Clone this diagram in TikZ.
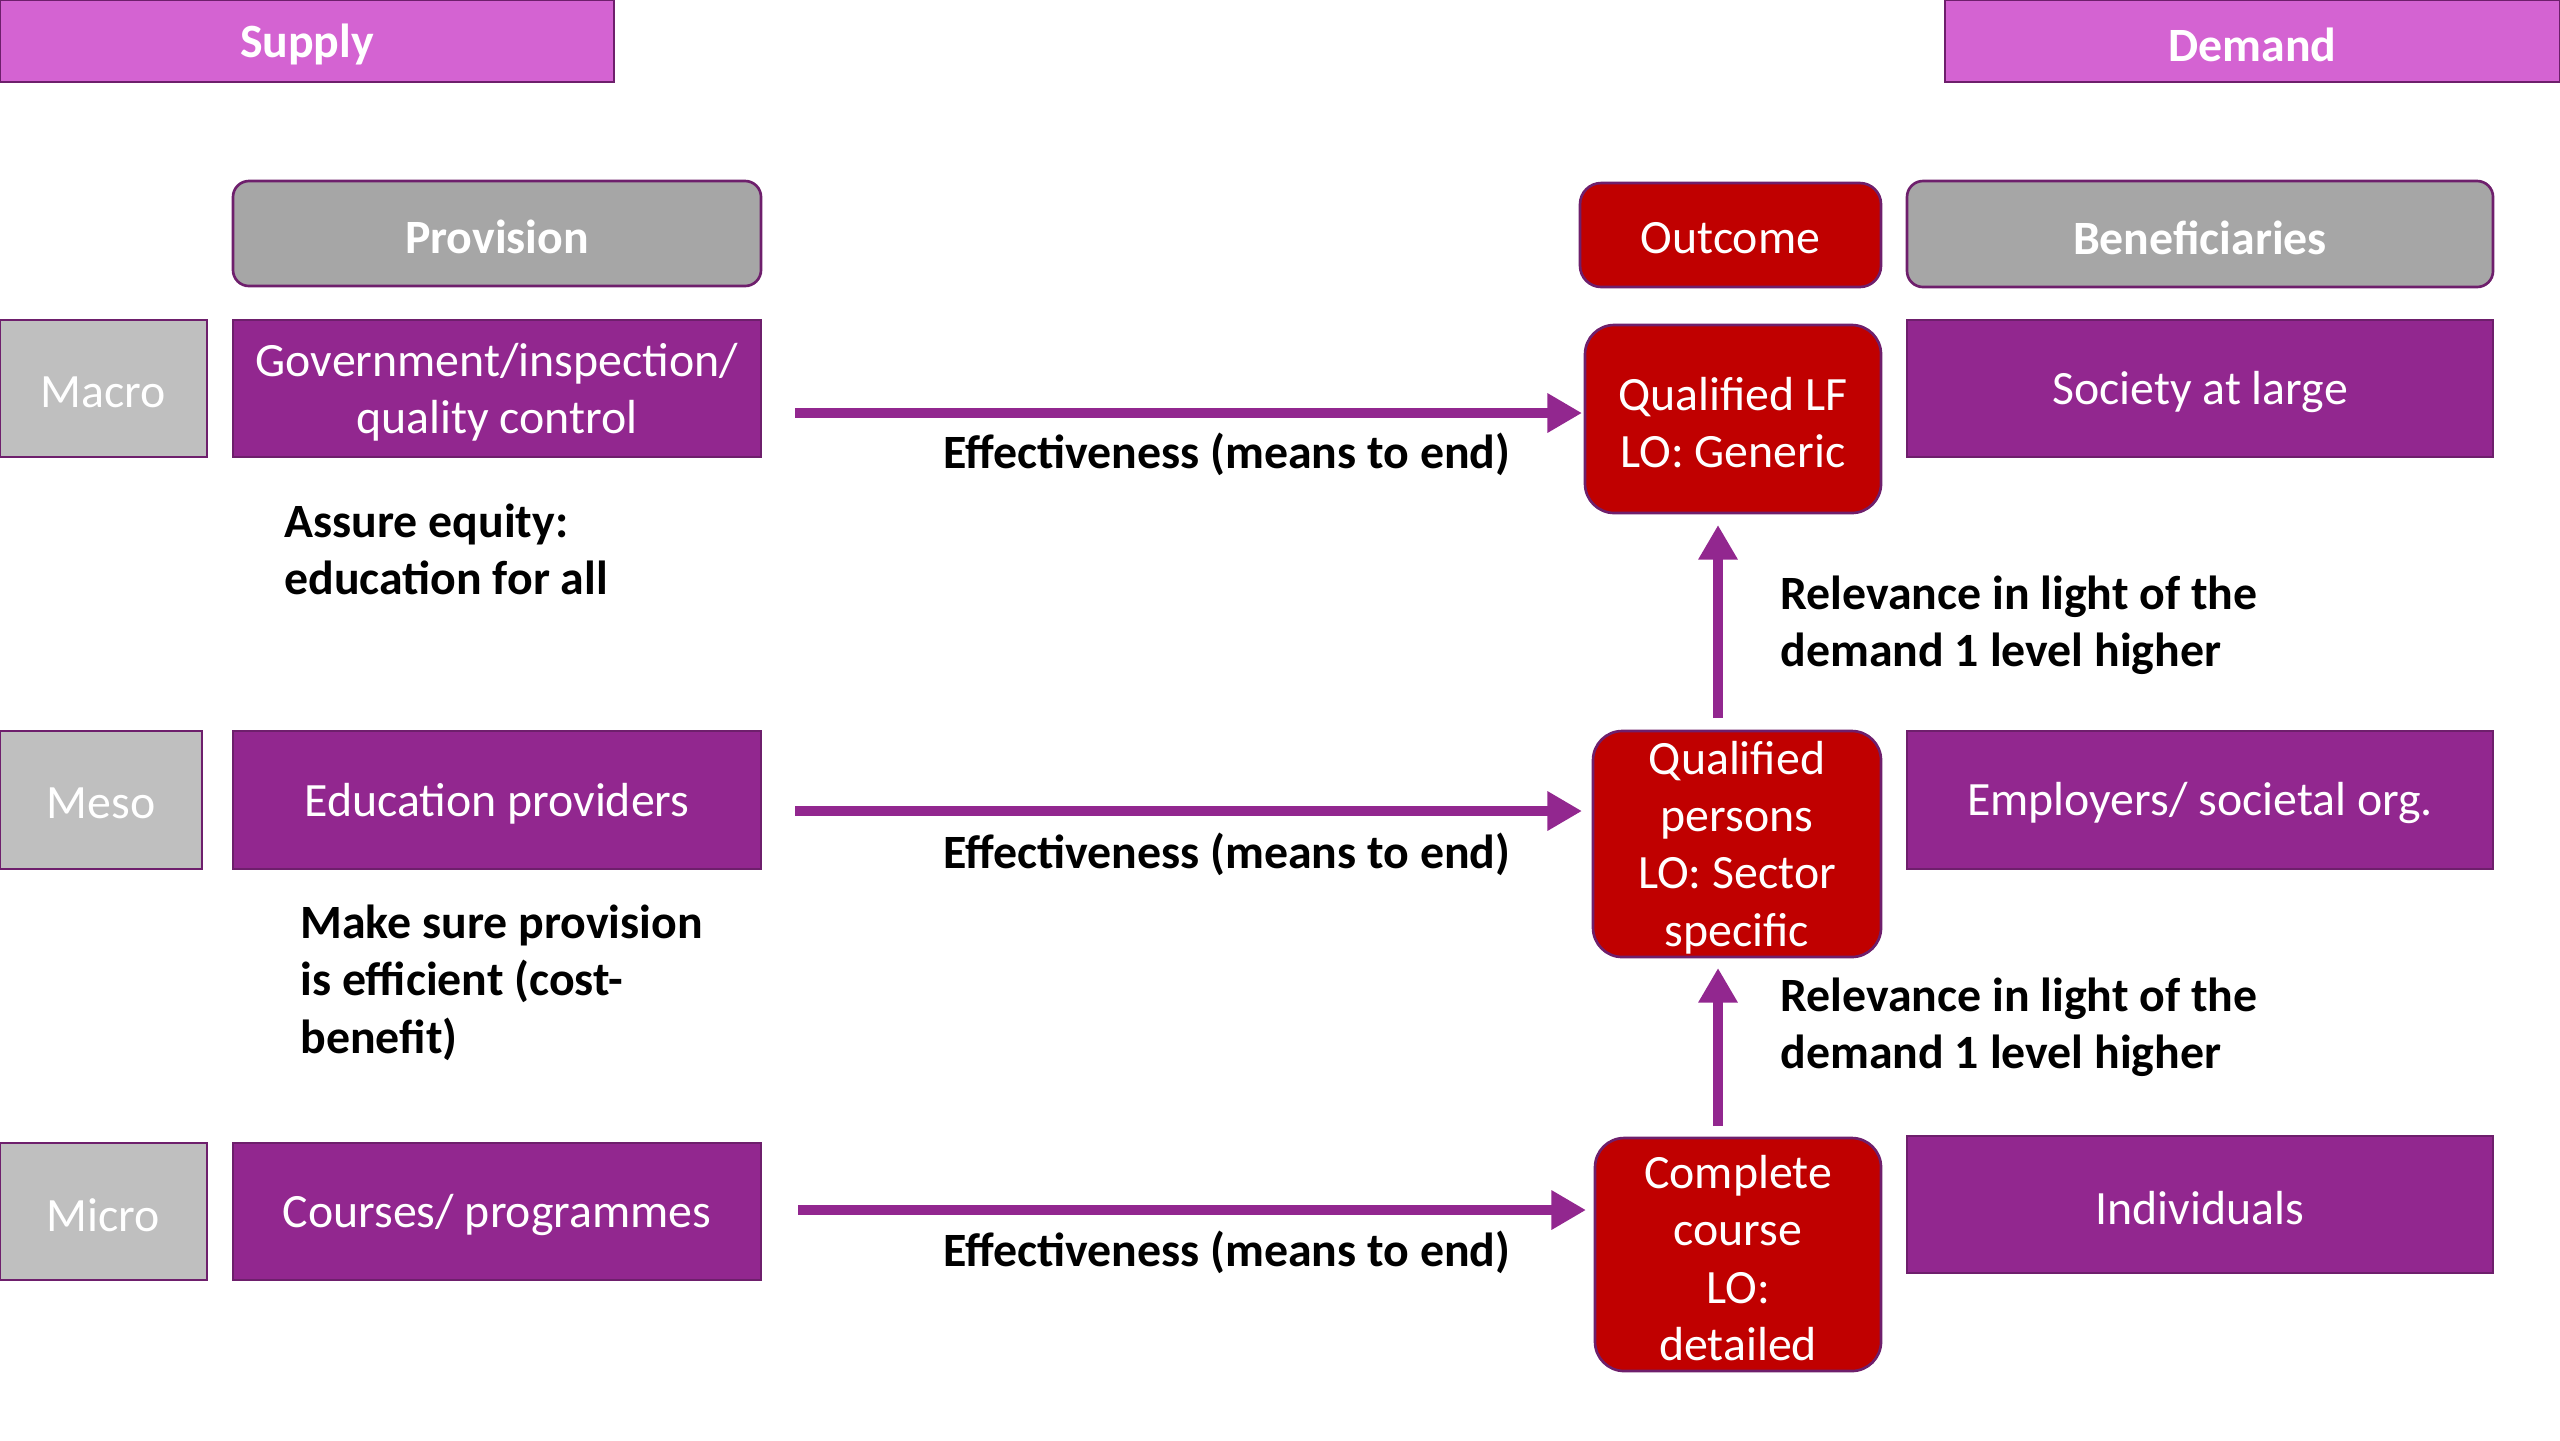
\documentclass[tikz,border=0pt]{standalone}
\usepackage{fontspec}
\setmainfont{Carlito}
\usetikzlibrary{arrows.meta}
\definecolor{purp}{HTML}{92278F}
\definecolor{purpdark}{HTML}{6E1F6C}
\definecolor{orch}{HTML}{D463D2}
\definecolor{grayh}{HTML}{A6A6A6}
\definecolor{grayl}{HTML}{BFBFBF}
\definecolor{redb}{HTML}{C00000}
\def\px{0.013229cm}
\begin{document}
\begin{tikzpicture}[x=\px,y=-\px,
  base/.style={draw=purpdark, line width=1pt, inner sep=0pt},
  btxt/.style={text=white, align=center, inner sep=0pt, yshift=-1.3pt,
    font=\fontsize{18}{21.6}\selectfont},
  btxtb/.style={btxt, font=\fontsize{18}{21.6}\selectfont\bfseries},
  sz/.style 2 args={minimum width=#1*\px, minimum height=#2*\px},
  headtop/.style={base, fill=orch},
  headgray/.style={base, fill=grayh, rounded corners=6pt},
  level/.style={base, fill=grayl},
  pbox/.style={base, fill=purp},
  rbox/.style={base, fill=redb, rounded corners=11pt},
  lbl/.style={font=\fontsize{18}{21.6}\selectfont\bfseries, inner sep=0pt, align=left},
  arr/.style={draw=purp, line width=3.6pt, -{Triangle[length=13pt,width=14pt]}}
]
\useasboundingbox (0,0) rectangle (2560,1440);

% top headers
\node[headtop, sz={614}{82}, label={[btxtb]center:Supply}] (supply) at (307,41) {};
\node[headtop, sz={615}{82}, label={[btxtb]center:Demand}] (demand) at (2252.5,41) {};

% column headers
\node[headgray, sz={528}{105}, label={[btxtb]center:Provision}] (provision) at (497,233.5) {};
\node[base, fill=redb, rounded corners=8pt, sz={301}{104}, label={[btxt]center:Outcome}] (outcome) at (1730.5,235) {};
\node[headgray, sz={586}{106}, label={[btxtb]center:Beneficiaries}] (benef) at (2200,234) {};

% macro row
\node[level, sz={207}{137}, label={[btxt]center:Macro}] (macro) at (103.5,388.5) {};
\node[pbox, sz={528}{137}, label={[btxt]center:Government/inspection/\\quality control}] (gov) at (497,388.5) {};
\node[rbox, sz={296}{188}, label={[btxt]center:Qualified LF\\LO: Generic}] (qlf) at (1733,419) {};
\node[pbox, sz={586}{137}, label={[btxt]center:Society at large}] (society) at (2200,388.5) {};

% meso row
\node[level, sz={202}{138}, label={[btxt]center:Meso}] (meso) at (101,800) {};
\node[pbox, sz={528}{138}, label={[btxt]center:Education providers}] (edu) at (497,800) {};
\node[rbox, sz={288}{226}, label={[btxt]center:Qualified\\persons\\LO: Sector\\specific}] (qp) at (1737,844) {};
\node[pbox, sz={586}{138}, label={[btxt]center:Employers/ societal org.}] (employers) at (2200,800) {};

% micro row
\node[level, sz={207}{137}, label={[btxt]center:Micro}] (micro) at (103.5,1211.5) {};
\node[pbox, sz={528}{137}, label={[btxt]center:Courses/ programmes}] (courses) at (497,1211.5) {};
\node[rbox, sz={286}{233}, label={[btxt]center:Complete\\course\\LO:\\detailed}] (cc) at (1738,1254.5) {};
\node[pbox, sz={586}{137}, label={[btxt]center:Individuals}] (indiv) at (2200,1204.5) {};

% arrows
\coordinate (e1s) at (795,413);
\coordinate (e1e) at (1582,413);
\coordinate (e2s) at (795,811);
\coordinate (e2e) at (1582,811);
\coordinate (e3s) at (798,1210);
\coordinate (e3e) at (1586,1210);
\draw[arr] (e1s) -- (e1e);
\draw[arr] (e2s) -- (e2e);
\draw[arr] (e3s) -- (e3e);

\coordinate (v1s) at (1718,718);
\coordinate (v1e) at (1718,525);
\coordinate (v2s) at (1718,1126);
\coordinate (v2e) at (1718,968);
\draw[arr] (v1s) -- (v1e);
\draw[arr] (v2s) -- (v2e);

% labels
\node[lbl] (eff1) at (1227,454) {Effectiveness (means to end)};
\node[lbl] (eff2) at (1227,854) {Effectiveness (means to end)};
\node[lbl] (eff3) at (1227,1252) {Effectiveness (means to end)};

\node[lbl, anchor=west] (equity) at (284,549.5) {Assure equity:\\education for all};
\node[lbl, anchor=west] (effic) at (300,982.5) {Make sure provision\\is efficient (cost-\\benefit)};

\node[lbl, anchor=west] (rel1) at (1780,625.5) {Relevance in light of the\\demand 1 level higher};
\node[lbl, anchor=west] (rel2) at (1780,1027) {Relevance in light of the\\demand 1 level higher};
\end{tikzpicture}
\end{document}
